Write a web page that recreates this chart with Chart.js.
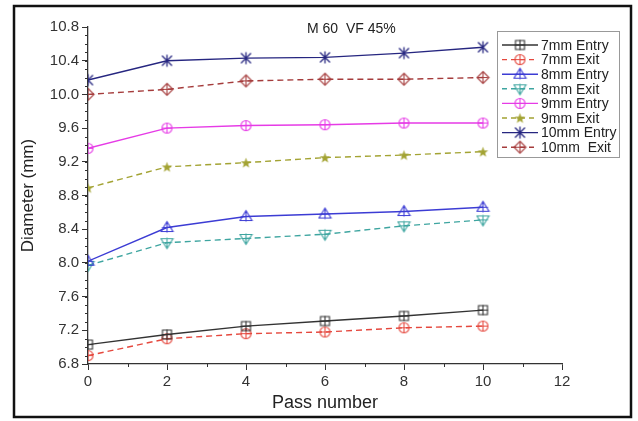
<!DOCTYPE html>
<html>
<head>
<meta charset="utf-8">
<script src="https://cdn.jsdelivr.net/npm/chart.js@4/dist/chart.umd.min.js"></script>
<style>
  html, body { margin: 0; padding: 0; background: #fff; }
  #wrap { width: 638px; height: 421px; position: relative; }
</style>
</head>
<body>
<div id="wrap"><canvas id="diamChart" width="638" height="421"></canvas></div>
<script>
// pass numbers (x) and measured diameters (mm)
const passes = [0, 2, 4, 6, 8, 10];
const entry7 = [7.03, 7.15, 7.25, 7.31, 7.37, 7.44];
const exit7 = [6.90, 7.10, 7.16, 7.18, 7.23, 7.25];
const entry8 = [8.02, 8.42, 8.55, 8.58, 8.61, 8.66];
const exit8 = [7.97, 8.24, 8.29, 8.34, 8.44, 8.51];
const entry9 = [9.36, 9.60, 9.63, 9.64, 9.66, 9.66];
const exit9 = [8.89, 9.14, 9.19, 9.25, 9.28, 9.32];
const entry10 = [10.17, 10.40, 10.43, 10.44, 10.49, 10.56];
const exit10 = [10.00, 10.06, 10.16, 10.18, 10.18, 10.20];

const seriesLabels = ["7mm Entry", "7mm Exit", "8mm Entry", "8mm Exit",
                      "9mm Entry", "9mm Exit", "10mm Entry", "10mm  Exit"];
const yTicks = [6.8, 7.2, 7.6, 8.0, 8.4, 8.8, 9.2, 9.6, 10.0, 10.4, 10.8];
const xTicks = [0, 2, 4, 6, 8, 10, 12];

const FONT = "'Liberation Sans', Arial, sans-serif";

// small canvas markers (open shapes with a cross, like the plotting software uses)
function makeMarker(shape, color) {
    const s = 15, c = 7.5, r = 5;
    const cv = document.createElement("canvas");
    cv.width = s; cv.height = s;
    const g = cv.getContext("2d");
    g.strokeStyle = color;
    g.fillStyle = color;
    g.lineWidth = 1.1;
    const plus = () => {
        g.beginPath();
        g.moveTo(c - r, c); g.lineTo(c + r, c);
        g.moveTo(c, c - r); g.lineTo(c, c + r);
        g.stroke();
    };
    g.beginPath();
    if (shape === "square") {
        g.rect(c - r + 0.5, c - r + 0.5, 2 * r - 1, 2 * r - 1);
        g.stroke(); plus();
    } else if (shape === "circle") {
        g.arc(c, c, r, 0, Math.PI * 2);
        g.stroke(); plus();
    } else if (shape === "triangle") {
        g.moveTo(c, c - r - 1); g.lineTo(c + r + 1, c + r - 1); g.lineTo(c - r - 1, c + r - 1); g.closePath();
        g.stroke(); plus();
    } else if (shape === "triangleDown") {
        g.moveTo(c, c + r + 1); g.lineTo(c + r + 1, c - r + 1); g.lineTo(c - r - 1, c - r + 1); g.closePath();
        g.stroke(); plus();
    } else if (shape === "diamond") {
        g.moveTo(c, c - r - 1); g.lineTo(c + r + 1, c); g.lineTo(c, c + r + 1); g.lineTo(c - r - 1, c); g.closePath();
        g.stroke(); plus();
    } else if (shape === "asterisk") {
        g.lineWidth = 1.3;
        g.moveTo(c - r, c - r); g.lineTo(c + r, c + r);
        g.moveTo(c + r, c - r); g.lineTo(c - r, c + r);
        g.moveTo(c, c - r - 1); g.lineTo(c, c + r + 1);
        g.stroke();
    } else if (shape === "star") {
        for (let i = 0; i < 10; i++) {
            const a = -Math.PI / 2 + i * Math.PI / 5;
            const rr = i % 2 === 0 ? r + 0.5 : r * 0.45;
            const px = c + rr * Math.cos(a), py = c + 0.5 + rr * Math.sin(a);
            if (i === 0) g.moveTo(px, py); else g.lineTo(px, py);
        }
        g.closePath();
        g.fill();
    }
    return cv;
}

const colors = ["#333333", "#e5483e", "#3c3cd4", "#3ea5a0", "#e63be6", "#a3a333", "#262680", "#a53c3c"];
const shapes = ["square", "circle", "triangle", "triangleDown", "circle", "star", "asterisk", "diamond"];
const dashed = [false, true, false, true, false, true, false, true];
const values = [entry7, exit7, entry8, exit8, entry9, exit9, entry10, exit10];
const markers = shapes.map((s, i) => makeMarker(s, colors[i]));

const datasets = values.map((vals, i) => ({
    label: seriesLabels[i],
    data: passes.map((p, k) => ({ x: p, y: vals[k] })),
    borderColor: colors[i],
    backgroundColor: colors[i],
    borderWidth: 1.4,
    borderDash: dashed[i] ? [6, 4] : [],
    pointStyle: markers[i],
    pointRadius: 6,
    tension: 0
}));

// frame, minor ticks, title text and the boxed legend
const decorPlugin = {
    id: "decor",
    afterDraw(chart) {
        const ctx = chart.ctx;
        const xs = chart.scales.x, ys = chart.scales.y;
        const area = chart.chartArea;
        ctx.save();

        // minor ticks
        ctx.strokeStyle = "#333";
        ctx.lineWidth = 1;
        ctx.beginPath();
        for (let v = 6.9; v < 10.8; v += 0.1) {
            const y = Math.round(ys.getPixelForValue(v)) + 0.5;
            ctx.moveTo(area.left, y); ctx.lineTo(area.left - 3, y);
        }
        for (let v = 1; v < 12; v += 2) {
            const x = Math.round(xs.getPixelForValue(v)) + 0.5;
            ctx.moveTo(x, area.bottom); ctx.lineTo(x, area.bottom + 3);
        }
        ctx.stroke();

        // annotation
        ctx.fillStyle = "#222";
        ctx.font = "14px " + FONT;
        ctx.textBaseline = "middle";
        ctx.fillText("M 60  VF 45%", 307, 29);

        // legend box
        const lx = 497, ly = 31, lw = 122, lh = 126;
        ctx.fillStyle = "#fff";
        ctx.fillRect(lx, ly, lw, lh);
        ctx.strokeStyle = "#999";
        ctx.lineWidth = 1;
        ctx.strokeRect(lx + 0.5, ly + 0.5, lw, lh);
        ctx.font = "14px " + FONT;
        seriesLabels.forEach((lab, i) => {
            const y = 45 + i * 14.6;
            ctx.strokeStyle = colors[i];
            ctx.lineWidth = 1.4;
            ctx.setLineDash(dashed[i] ? [5, 4] : []);
            ctx.beginPath();
            ctx.moveTo(502, y); ctx.lineTo(538, y);
            ctx.stroke();
            ctx.setLineDash([]);
            ctx.drawImage(markers[i], 520 - 7.5, y - 7.5);
            ctx.fillStyle = "#222";
            ctx.fillText(lab, 541, y + 1);
        });

        // outer frame
        ctx.strokeStyle = "#111";
        ctx.lineWidth = 2.5;
        ctx.strokeRect(14, 6, 617, 411);
        ctx.restore();
    }
};

const ctx = document.getElementById("diamChart").getContext("2d");
new Chart(ctx, {
    type: "line",
    data: { datasets: datasets },
    options: {
        responsive: false,
        animation: false,
        layout: { padding: { left: 14, top: 27, right: 76, bottom: 7 } },
        plugins: { legend: { display: false }, tooltip: { enabled: false } },
        scales: {
            x: {
                type: "linear",
                min: 0, max: 12,
                afterBuildTicks: s => { s.ticks = xTicks.map(v => ({ value: v })); },
                afterFit: s => { s.height = 50; },
                grid: { drawOnChartArea: false, tickLength: 6, color: "#333", tickColor: "#333" },
                border: { color: "#333", width: 1.3 },
                ticks: { color: "#333", padding: 3, font: { family: FONT, size: 15 } },
                title: { display: true, text: "Pass number", color: "#222",
                         font: { family: FONT, size: 18 }, padding: { top: 0, bottom: 0 } }
            },
            y: {
                min: 6.8, max: 10.8,
                afterBuildTicks: s => { s.ticks = yTicks.map(v => ({ value: v })); },
                afterFit: s => { s.width = 74; },
                grid: { drawOnChartArea: false, tickLength: 6, color: "#333", tickColor: "#333" },
                border: { color: "#333", width: 1.3 },
                ticks: { color: "#333", padding: 3, font: { family: FONT, size: 15 },
                         callback: v => v.toFixed(1) },
                title: { display: true, text: "Diameter (mm)", color: "#222",
                         font: { family: FONT, size: 17 }, padding: { top: 4, bottom: 0 } }
            }
        }
    },
    plugins: [decorPlugin]
});
</script>
</body>
</html>
